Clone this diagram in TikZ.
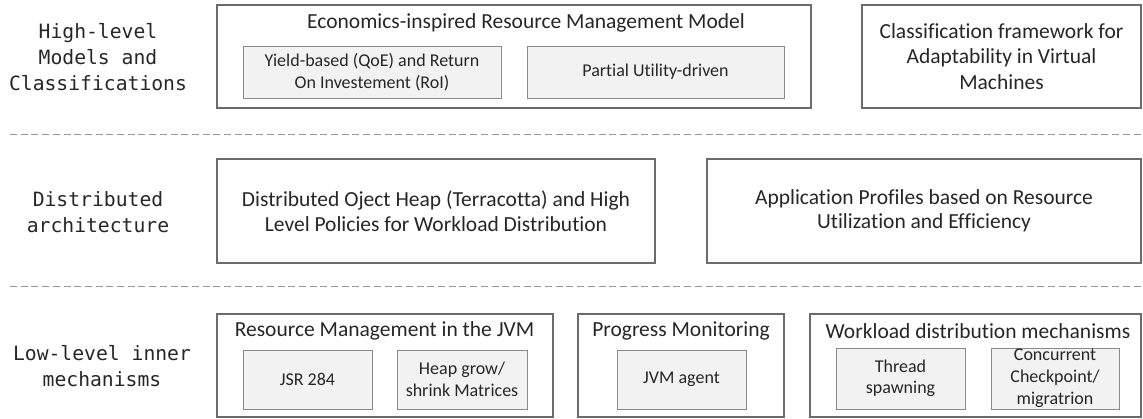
\documentclass[tikz,border=0pt]{standalone}
\usepackage{fontspec}
\setmainfont{Carlito}[Ligatures=NoCommon]
\newfontfamily\labelfont{DejaVu Sans Mono}
\definecolor{boxline}{HTML}{6B6B6B}
\definecolor{innerline}{HTML}{8A8A8A}
\definecolor{innerfill}{HTML}{F2F2F2}
\definecolor{sepline}{HTML}{9A9A9A}
\definecolor{ink}{HTML}{262626}
\tikzset{
  layerlabel/.style={align=center, text=ink, inner sep=0pt,
    font=\labelfont\fontsize{19.7}{26}\selectfont},
  outerbox/.style={draw=boxline, line width=1.6pt, inner sep=0pt, align=center,
    text=ink, font=\fontsize{21.5}{24.5}\selectfont},
  boxtitle/.style={inner sep=0pt, text=ink, font=\fontsize{21.5}{26}\selectfont},
  innerbox/.style={draw=innerline, fill=innerfill, line width=0.8pt, inner sep=0pt,
    align=center, text=ink, font=\fontsize{18}{21.5}\selectfont},
  separator/.style={draw=sepline, line width=1pt, dash pattern=on 7pt off 3.7pt}
}
\begin{document}
\begin{tikzpicture}[x=1pt, y=-1pt]
\useasboundingbox (0,0) rectangle (1143,419);

% ---- layer labels ----
\node[layerlabel] (lblhigh) at (98,57) {High-level\\Models and\\Classifications};
\node[layerlabel] (lbldist) at (98,212) {Distributed\\architecture};
\node[layerlabel] (lbllow)  at (102,366) {Low-level inner\\mechanisms};

% ---- layer separators ----
\coordinate (sepAl) at (10,135);  \coordinate (sepAr) at (1143,135);
\coordinate (sepBl) at (10,287);  \coordinate (sepBr) at (1143,287);
\draw[separator] (sepAl) -- (sepAr);
\draw[separator] (sepBl) -- (sepBr);

% ---- high-level models ----
\node[outerbox, minimum width=594pt, minimum height=103pt] (econ) at (514,56.5) {};
\node[boxtitle] (econtitle) at (526,23) {Economics-inspired Resource Management Model};
\node[innerbox, minimum width=258pt, minimum height=52pt] (yield) at (372,72)
  {Yield-based (QoE) and Return\\On Investement (RoI)};
\node[innerbox, minimum width=257pt, minimum height=52pt] (partial) at (655.5,72)
  {Partial Utility-driven};
\node[outerbox, minimum width=279pt, minimum height=103pt, font=\fontsize{21.5}{25.5}\selectfont] (classif) at (1001.5,56.5)
  {Classification framework for\\Adaptability in Virtual\\Machines};

% ---- distributed architecture ----
\node[outerbox, minimum width=438pt, minimum height=104pt] (heap) at (436,211)
  {Distributed Oject Heap (Terracotta) and High\\Level Policies for Workload Distribution};
\node[outerbox, minimum width=434pt, minimum height=104pt] (profiles) at (924,211)
  {Application Profiles based on Resource\\Utilization and Efficiency};

% ---- low-level mechanisms ----
\node[outerbox, minimum width=336pt, minimum height=103pt] (resmgmt) at (385,365.5) {};
\node[boxtitle] (resmgmttitle) at (384.5,331) {Resource Management in the JVM};
\node[innerbox, minimum width=129pt, minimum height=59pt] (jsr) at (307.5,379.5) {JSR 284};
\node[innerbox, minimum width=130pt, minimum height=59pt] (heapgrow) at (462,379.5)
  {Heap grow/\\shrink Matrices};

\node[outerbox, minimum width=206pt, minimum height=103pt] (progress) at (681,365.5) {};
\node[boxtitle] (progresstitle) at (681,331) {Progress Monitoring};
\node[innerbox, minimum width=129pt, minimum height=59pt] (agent) at (681.5,379.5) {JVM agent};

\node[outerbox, minimum width=331pt, minimum height=103pt] (workload) at (975.5,365.5) {};
\node[boxtitle] (workloadtitle) at (978,331) {Workload distribution mechanisms};
\node[innerbox, minimum width=129pt, minimum height=61pt] (thread) at (900.5,378.5)
  {Thread\\spawning};
\node[innerbox, minimum width=128pt, minimum height=61pt, font=\fontsize{18}{22}\selectfont] (checkpoint) at (1055,378.5)
  {Concurrent\\Checkpoint/\\migratrion};
\end{tikzpicture}
\end{document}
